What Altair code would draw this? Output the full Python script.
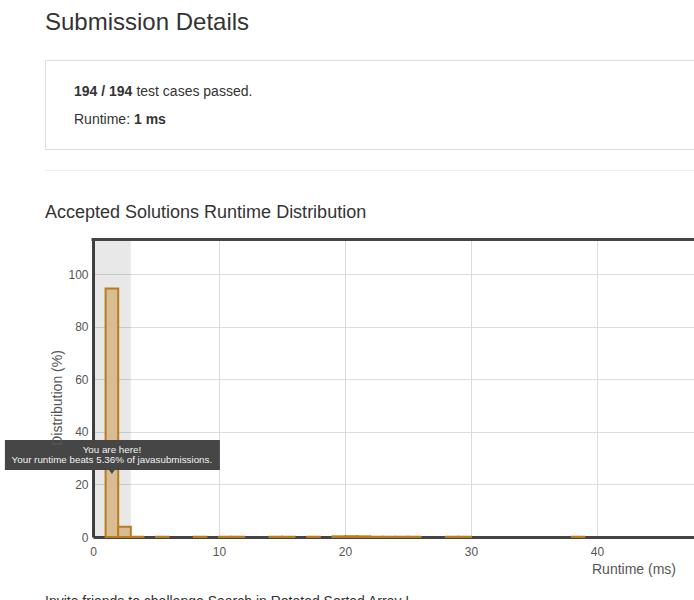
import altair as alt
import pandas as pd

# ---- data ----
bin_start = [1, 2, 3, 5, 8, 10, 11, 14, 15, 17, 19, 20, 21, 22, 23, 24, 25, 28, 29, 38]
pct = [94.6, 3.9, 0.1, 0.1, 0.1, 0.1, 0.1, 0.1, 0.1, 0.1, 0.25, 0.3, 0.25, 0.1, 0.1, 0.1, 0.1, 0.1, 0.1, 0.1]
bin_width = 1
highlight = [0, 3]          # runtime range of "your" submission
you_x, you_y = 1.5, 24      # where the "You are here!" arrow points
x_ticks = [0, 10, 20, 30, 40]
y_ticks = [0, 20, 40, 60, 80, 100]
x_max, y_max = 47.7, 113.5

bars = pd.DataFrame({"start": bin_start,
                     "end": [s + bin_width for s in bin_start],
                     "pct": pct})

FONT = "Liberation Sans"
W, H = 601, 298

xs = alt.Scale(domain=[0, x_max], nice=False, zero=False)
ys = alt.Scale(domain=[0, y_max], nice=False)

one = pd.DataFrame({"a": [0]})

def text(t, x, y, size=14, weight="normal", color="#333", align="left", angle=0):
    kw = dict(text=t, font=FONT, fontSize=size, fontWeight=weight, color=color,
              align=align, baseline="alphabetic")
    if angle:
        kw["angle"] = angle
    return alt.Chart(one).mark_text(**kw).encode(x=alt.value(x), y=alt.value(y))

x_axis = alt.Axis(values=x_ticks, title=None, grid=True, gridColor="#dcdcdc",
                  domainColor="#444", domainWidth=3, tickSize=0, labelPadding=9,
                  labelFlush=False, labelFont=FONT, labelFontSize=12, labelColor="#555")
y_axis = alt.Axis(values=y_ticks, title=None, grid=True, gridColor="#dcdcdc",
                  domainColor="#444", domainWidth=3, tickSize=0, labelPadding=5,
                  labelFlush=False, labelFont=FONT, labelFontSize=12, labelColor="#555")

band = alt.Chart(pd.DataFrame({"s": [highlight[0]], "e": [highlight[1]]})).mark_rect(
    fill="black", opacity=0.09).encode(
    x=alt.X("s:Q", scale=xs, axis=x_axis), x2="e:Q",
    y=alt.value(0), y2=alt.value(H))

grid_holder = alt.Chart(one).mark_point(opacity=0).encode(
    x=alt.X("a:Q", scale=xs, axis=x_axis),
    y=alt.Y("a:Q", scale=ys, axis=y_axis))

bar_layer = alt.Chart(bars).mark_rect(fill="#d8bd94", stroke="#b97c1c", strokeWidth=2).encode(
    x=alt.X("start:Q", scale=xs), x2="end:Q",
    y=alt.Y("pct:Q", scale=ys), y2=alt.datum(0))

top_rule = alt.Chart(one).mark_rule(color="#444", strokeWidth=3).encode(
    x=alt.value(-1.5), x2=alt.value(W + 20), y=alt.value(0.5))

# page decorations
box = alt.Chart(one).mark_rect(fill="white", stroke="#dcdcdc", strokeWidth=1).encode(
    x=alt.value(-47.5), x2=alt.value(W + 40), y=alt.value(-178.5), y2=alt.value(-89.5))
sep = alt.Chart(one).mark_rule(color="#eeeeee", strokeWidth=1).encode(
    x=alt.value(-48), x2=alt.value(W + 40), y=alt.value(-68.5))

page = [
    box, sep,
    text("Submission Details", -48, -209, size=24),
    text("194 / 194", -19, -143, weight="bold"),
    text("test cases passed.", 43.4, -143),
    text("Runtime:", -19, -115),
    text("1 ms", 41, -115, weight="bold"),
    text("Accepted Solutions Runtime Distribution", -48, -21, size=18),
    text("Runtime (ms)", 583, 335, size=14, color="#555", align="right"),
    text("Invite friends to challenge Search in Rotated Sorted Array I", -48, 367, size=14),
]
y_title = text("Distribution (%)", -31, 159, size=14, color="#555", align="center", angle=270)

# tooltip
tip = pd.DataFrame({"x": [you_x], "y": [you_y]})
tip_box = alt.Chart(tip).mark_rect(fill="#464646", xOffset=-107, x2Offset=108,
                                   yOffset=-34, y2Offset=-4).encode(
    x=alt.X("x:Q", scale=xs), x2="x:Q", y=alt.Y("y:Q", scale=ys), y2="y:Q")
tip_arrow = alt.Chart(tip).mark_point(shape="M-1,-0.7L1,-0.7L0,0.7Z", size=100, filled=True,
                                      fill="#464646", opacity=1, strokeWidth=0, yOffset=-3.5).encode(
    x=alt.X("x:Q", scale=xs), y=alt.Y("y:Q", scale=ys))
tip_t1 = alt.Chart(tip).mark_text(text="You are here!", font=FONT, fontSize=9.8, color="#f2f2f2",
                                  align="center", baseline="alphabetic", dy=-21).encode(
    x=alt.X("x:Q", scale=xs), y=alt.Y("y:Q", scale=ys))
tip_t2 = alt.Chart(tip).mark_text(text="Your runtime beats 5.36% of javasubmissions.", font=FONT,
                                  fontSize=9.8, color="#f2f2f2", align="center",
                                  baseline="alphabetic", dy=-11).encode(
    x=alt.X("x:Q", scale=xs), y=alt.Y("y:Q", scale=ys))

chart = alt.layer(
    *page[:2], band, grid_holder, bar_layer, top_rule, *page[2:],
    tip_box, tip_arrow, tip_t1, tip_t2, y_title
).properties(
    width=W, height=H,
    autosize=alt.AutoSizeParams(type="none"),
    padding={"left": 93, "top": 239, "right": 0, "bottom": 63},
    background="white",
).configure_view(stroke=None)

chart.save("out.html", embed_options={"renderer": "svg", "actions": False})
